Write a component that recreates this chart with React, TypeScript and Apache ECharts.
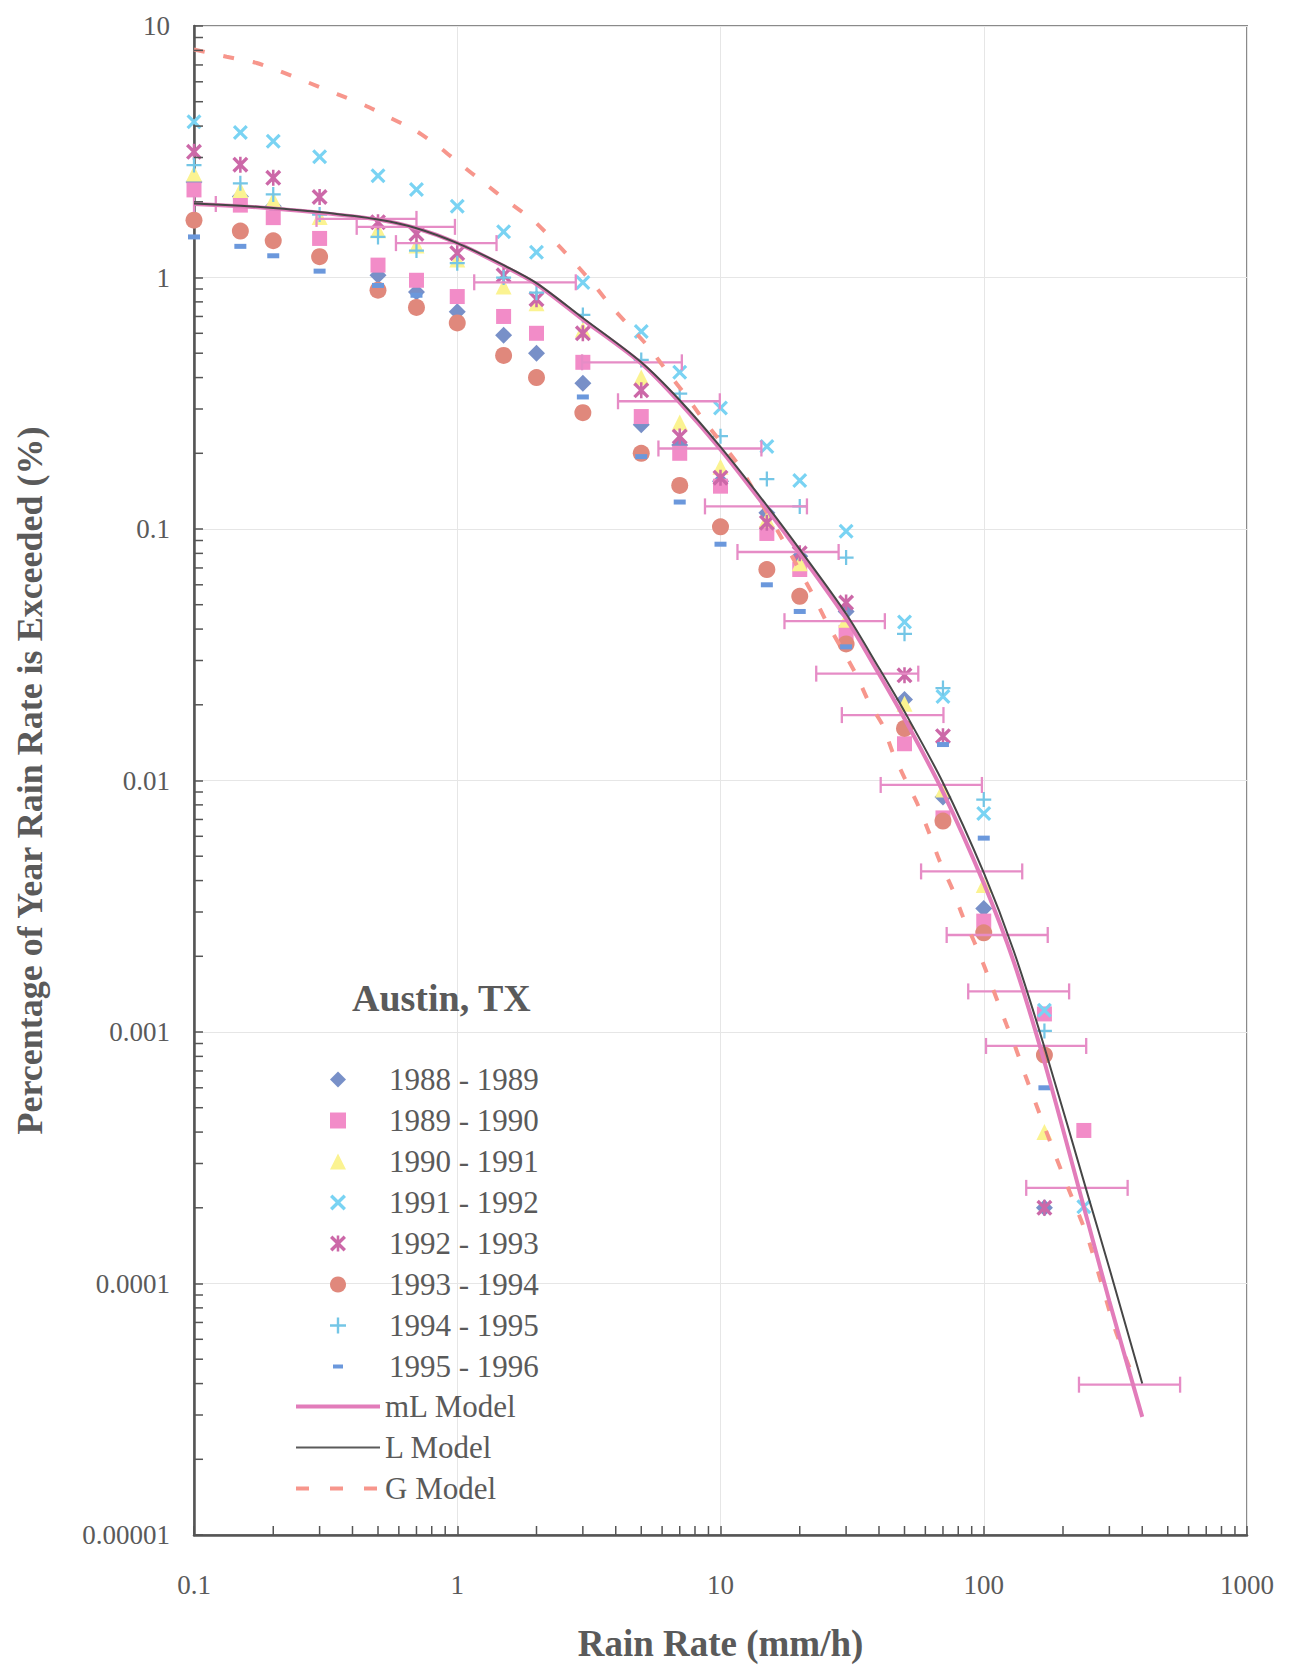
import React, { useEffect, useRef } from "react";
import * as echarts from "echarts";

const FONT = "'Liberation Serif', 'Times New Roman', Times, serif";
const TEXT_COLOR = "#5a5a5a";

// Rain-rate thresholds (mm/h) at which the yearly exceedance was measured
const rainRates = [0.1, 0.15, 0.2, 0.3, 0.5, 0.7, 1, 1.5, 2, 3, 5, 7, 10, 15, 20, 30, 50, 70, 100, 170, 240];

// Percentage of year exceeded, per measurement year (null = not plotted / hidden)
const y1988 = [2.4, 2.1, 1.92, null, 1.02, 0.875, 0.73, 0.59, 0.5, 0.38, 0.26, 0.216, 0.155, 0.116, 0.078, 0.047, 0.021, 0.0086, 0.0031, 0.0002, null];
const y1989 = [2.23, 1.94, 1.73, 1.43, 1.12, 0.975, 0.84, 0.7, 0.6, 0.46, 0.28, 0.2, 0.148, 0.096, 0.069, 0.0388, 0.014, 0.0071, 0.00276, 0.00118, 0.000406];
const y1990 = [2.59, 2.23, 2.04, 1.74, 1.54, 1.34, 1.18, 0.92, 0.79, 0.62, 0.4, 0.265, 0.177, 0.109, 0.073, 0.0436, 0.0202, 0.0092, 0.00384, 0.0004, null];
const y1991 = [4.16, 3.77, 3.48, 3.02, 2.54, 2.24, 1.92, 1.52, 1.26, 0.955, 0.61, 0.42, 0.303, 0.213, 0.156, 0.098, 0.0427, 0.0216, 0.0074, 0.00122, 0.000202];
const y1992 = [3.16, 2.81, 2.49, 2.09, 1.66, 1.49, 1.25, 1.02, 0.82, 0.6, 0.356, 0.233, 0.16, 0.106, 0.08, 0.051, 0.0262, 0.015, null, 0.0002, null];
const y1993 = [1.69, 1.53, 1.4, 1.21, 0.89, 0.76, 0.66, 0.49, 0.4, 0.29, 0.2, 0.149, 0.102, 0.069, 0.054, 0.0349, 0.0161, 0.0069, 0.00248, 0.00081, null];
const y1994 = [2.8, 2.37, 2.14, 1.78, 1.45, 1.28, 1.14, 1.0, 0.87, 0.71, 0.47, 0.345, 0.234, 0.158, 0.123, 0.077, 0.0383, 0.0233, 0.0084, 0.00101, null];
const y1995 = [1.45, 1.33, 1.22, 1.06, 0.93, 0.85, null, null, null, 0.335, 0.194, 0.128, 0.087, 0.06, 0.047, 0.034, null, 0.0139, 0.0059, 0.0006, null];

const seriesNames = ["1988 - 1989", "1989 - 1990", "1990 - 1991", "1991 - 1992", "1992 - 1993", "1993 - 1994", "1994 - 1995", "1995 - 1996"];
const modelNames = ["mL Model", "L Model", "G Model"];

// Model curves
const modelX = [0.1, 0.15, 0.2, 0.3, 0.5, 0.7, 1, 1.5, 2, 3, 5, 7, 10, 15, 20, 30, 40, 50, 70, 100, 130, 170, 250, 300, 400];
const modelL = [1.97, 1.93, 1.89, 1.82, 1.7, 1.57, 1.37, 1.12, 0.95, 0.69, 0.46, 0.325, 0.212, 0.124, 0.083, 0.046, 0.028, 0.0188, 0.0098, 0.0043, 0.0021, 0.00087, 0.00022, 0.000115, 0.00004];
const modelML = [1.96, 1.92, 1.88, 1.81, 1.7, 1.57, 1.37, 1.11, 0.94, 0.68, 0.455, 0.318, 0.207, 0.12, 0.08, 0.044, 0.0265, 0.0176, 0.009, 0.0039, 0.0019, 0.00076, 0.000172, 0.000085, 0.0000295];
const gModelX = [0.1, 0.133, 0.173, 0.213, 0.273, 0.35, 0.449, 0.55, 0.7, 0.855, 1.02, 1.25, 1.56, 1.93, 2.27, 2.76, 3.33, 3.92, 4.74, 5.41, 6.35, 7.38, 8.53, 11.7, 13.2, 17.2, 22.6, 25.5, 32.7, 36.6, 41.3, 45, 49.9, 55.9, 62, 67.7, 76.2, 83.2, 92.4, 101, 122, 132, 144, 157, 185, 205, 249, 315, 378];
const gModelY = [8.06, 7.55, 7.13, 6.6, 5.95, 5.36, 4.82, 4.34, 3.82, 3.3, 2.84, 2.4, 2.0, 1.7, 1.44, 1.16, 0.926, 0.75, 0.606, 0.52, 0.415, 0.34, 0.275, 0.18, 0.146, 0.091, 0.054, 0.042, 0.0265, 0.0205, 0.0166, 0.013, 0.0103, 0.0081, 0.0062, 0.00484, 0.00368, 0.00289, 0.00226, 0.0018, 0.00107, 0.000868, 0.00067, 0.000525, 0.000333, 0.000253, 0.000151, 0.000066, 0.00004];

// Horizontal error bars on the mL model
const errLow = [0.1, 0.292, 0.415, 0.585, 1.16, 2.98, 4.08, 5.81, 8.73, 11.6, 17.5, 23.1, 28.9, 40.6, 57.8, 72.3, 87.3, 102, 145, 230];
const errHigh = [0.121, 0.7, 0.98, 1.41, 2.82, 7.13, 9.94, 14.3, 21.3, 28.1, 42.1, 56.4, 70.3, 98.4, 140, 175, 211, 245, 352, 557];
const errY = [1.96, 1.71, 1.59, 1.37, 0.957, 0.46, 0.322, 0.209, 0.123, 0.081, 0.043, 0.0266, 0.0182, 0.0096, 0.00435, 0.00243, 0.00145, 0.00088, 0.00024, 0.0000396];

// Axis ticks
const xTickLabels = ["0.1", "1", "10", "100", "1000"];
const yTickLabels = ["0.00001", "0.0001", "0.001", "0.01", "0.1", "1", "10"];
const minorMultipliers = [2, 3, 4, 5, 6, 7, 8, 9];
const xDecades = [0.1, 1, 10, 100];
const yDecades = [0.00001, 0.0001, 0.001, 0.01, 0.1, 1];

const X_MIN = 0.1, X_MAX = 1000, Y_MIN = 0.00001, Y_MAX = 10;

const X_PATH = "path://M0,1.5L1.5,0L5,3.5L8.5,0L10,1.5L6.5,5L10,8.5L8.5,10L5,6.5L1.5,10L0,8.5L3.5,5Z";
const STAR_PATH = "path://M0,1.5L1.5,0L5,3.5L8.5,0L10,1.5L6.5,5L10,8.5L8.5,10L5,6.5L1.5,10L0,8.5L3.5,5Z M4.2,0L5.8,0L5.8,10L4.2,10Z";
const PLUS_PATH = "path://M4.25,0L5.75,0L5.75,4.25L10,4.25L10,5.75L5.75,5.75L5.75,10L4.25,10L4.25,5.75L0,5.75L0,4.25L4.25,4.25Z";
const DASH_PATH = "path://M0,0L10,0L10,4L0,4Z";
const DASH_LEGEND_ICON = "path://M0,0L0,0M3,6L13,6L13,10L3,10ZM16,16L16,16";

// Legend icons for the model curves
const ML_ICON = "path://M0,0L84,0L84,4L0,4Z";
const L_ICON = "path://M0,0L84,0L84,2L0,2Z";
const G_ICON = "path://M0,0L13,0L13,4L0,4Z M34,0L47,0L47,4L34,4Z M68,0L81,0L81,4L68,4Z M84,0L84,0";
const modelIcons = [ML_ICON, L_ICON, G_ICON];

const seriesValues = [y1988, y1989, y1990, y1991, y1992, y1993, y1994, y1995];
const seriesSymbols: any[] = ["diamond", "rect", "triangle", X_PATH, STAR_PATH, "circle", PLUS_PATH, DASH_PATH];
const legendSymbols: any[] = ["diamond", "rect", "triangle", X_PATH, STAR_PATH, "circle", PLUS_PATH, DASH_LEGEND_ICON];
const seriesSizes: any[] = [17, 15, 16, 15, 16, 17, 15, [12, 5]];
const seriesColors = ["#7890c8", "#f28cc8", "#fbf391", "#79d3f3", "#cc68a8", "#e0887c", "#74c6e6", "#6b98dc"];

function buildOption(): any {
  const decadeIndex = (v: number, base: number) => Math.round(Math.log10(v)) - base;

  const scatterSeries = seriesNames.map((name, i) => ({
    type: "scatter",
    name,
    symbol: seriesSymbols[i],
    symbolSize: seriesSizes[i],
    itemStyle: { color: seriesColors[i], opacity: 1 },
    clip: false,
    z: 2,
    data: rainRates
      .map((x, k) => [x, seriesValues[i][k]])
      .filter((p) => p[1] !== null && p[1] !== undefined),
  }));

  const errorSeries = {
    type: "custom",
    name: "errorbars",
    silent: true,
    z: 3,
    clip: false,
    encode: { x: [0, 1], y: 2 },
    data: errY.map((y, i) => [errLow[i], errHigh[i], y]),
    renderItem: (params: any, api: any) => {
      const lo = api.coord([api.value(0), api.value(2)]);
      const hi = api.coord([api.value(1), api.value(2)]);
      const h = 8;
      const style = { stroke: "#e68cc6", lineWidth: 2.3, fill: null };
      return {
        type: "group",
        children: [
          { type: "line", shape: { x1: lo[0], y1: lo[1], x2: hi[0], y2: hi[1] }, style },
          { type: "line", shape: { x1: lo[0], y1: lo[1] - h, x2: lo[0], y2: lo[1] + h }, style },
          { type: "line", shape: { x1: hi[0], y1: hi[1] - h, x2: hi[0], y2: hi[1] + h }, style },
        ],
      };
    },
  };

  const xMinor = xDecades.flatMap((d) => minorMultipliers.map((m) => [m * d, Y_MIN]));
  const yMinor = yDecades.flatMap((d) => minorMultipliers.map((m) => [X_MIN, m * d]));

  const tickStyle = { stroke: "#555", lineWidth: 1.5 };
  const xMinorSeries = {
    type: "custom",
    silent: true,
    z: 6,
    clip: false,
    data: xMinor,
    renderItem: (params: any, api: any) => {
      const p = api.coord([api.value(0), api.value(1)]);
      return { type: "line", shape: { x1: p[0], y1: p[1], x2: p[0], y2: p[1] - 9 }, style: tickStyle };
    },
  };
  const yMinorSeries = {
    type: "custom",
    silent: true,
    z: 6,
    clip: false,
    data: yMinor,
    renderItem: (params: any, api: any) => {
      const p = api.coord([api.value(0), api.value(1)]);
      return { type: "line", shape: { x1: p[0], y1: p[1], x2: p[0] + 9, y2: p[1] }, style: tickStyle };
    },
  };

  const lineSeries = [
    {
      type: "line",
      name: "mL Model",
      symbol: "none",
      smooth: 0.3,
      clip: false,
      z: 4,
      lineStyle: { color: "#e27cba", width: 4 },
      itemStyle: { color: "#e27cba" },
      data: modelX.map((x, i) => [x, modelML[i]]),
    },
    {
      type: "line",
      name: "L Model",
      symbol: "none",
      smooth: 0.3,
      clip: false,
      z: 5,
      lineStyle: { color: "#464646", width: 2 },
      itemStyle: { color: "#5a5a5a" },
      data: modelX.map((x, i) => [x, modelL[i]]),
    },
    {
      type: "line",
      name: "G Model",
      symbol: "none",
      smooth: 0.2,
      clip: false,
      z: 3,
      lineStyle: { color: "#f7968c", width: 4, type: [11, 19] },
      itemStyle: { color: "#f7968c" },
      data: gModelX.map((x, i) => [x, gModelY[i]]),
    },
  ];

  return {
    animation: false,
    backgroundColor: "#ffffff",
    textStyle: { fontFamily: FONT },
    title: {
      text: "Austin, TX",
      left: 352,
      top: 979,
      padding: 0,
      textStyle: { fontFamily: FONT, fontSize: 38, fontWeight: "bold", color: TEXT_COLOR },
    },
    legend: [
      {
        data: seriesNames.map((name, i) => ({ name, icon: legendSymbols[i] })),
        orient: "vertical",
        left: 330,
        top: 1064,
        padding: 0,
        itemWidth: 16,
        itemHeight: 16,
        itemGap: 10,
        selectedMode: false,
        textStyle: { fontFamily: FONT, fontSize: 31, lineHeight: 31, color: TEXT_COLOR, padding: [0, 0, 0, 38] },
      },
      {
        data: modelNames.map((name, i) => ({ name, icon: modelIcons[i] })),
        orient: "vertical",
        left: 296,
        top: 1391,
        padding: 0,
        itemWidth: 84,
        itemHeight: 16,
        itemGap: 10,
        selectedMode: false,
        textStyle: { fontFamily: FONT, fontSize: 31, lineHeight: 31, color: TEXT_COLOR },
      },
    ],
    grid: {
      left: 194,
      right: 42,
      top: 26,
      bottom: 129,
      show: true,
      borderColor: "#8a8a8a",
      borderWidth: 2,
    },
    xAxis: {
      type: "log",
      logBase: 10,
      min: X_MIN,
      max: X_MAX,
      axisLine: { show: true, onZero: false, lineStyle: { color: "#555", width: 2.5 } },
      axisTick: { show: true, inside: true, length: 9, lineStyle: { color: "#555", width: 1.5 } },
      splitLine: { show: true, lineStyle: { color: "#e6e6e6", width: 1 } },
      axisLabel: {
        fontFamily: FONT,
        fontSize: 27,
        color: TEXT_COLOR,
        margin: 36,
        formatter: (v: number) => xTickLabels[decadeIndex(v, -1)] ?? "",
      },
      name: "Rain Rate (mm/h)",
      nameLocation: "middle",
      nameGap: 90,
      nameTextStyle: { fontFamily: FONT, fontSize: 37, fontWeight: "bold", color: TEXT_COLOR },
    },
    yAxis: {
      type: "log",
      logBase: 10,
      min: Y_MIN,
      max: Y_MAX,
      axisLine: { show: true, onZero: false, lineStyle: { color: "#555", width: 2.5 } },
      axisTick: { show: true, inside: true, length: 9, lineStyle: { color: "#555", width: 1.5 } },
      splitLine: { show: true, lineStyle: { color: "#e6e6e6", width: 1 } },
      axisLabel: {
        fontFamily: FONT,
        fontSize: 27,
        color: TEXT_COLOR,
        margin: 24,
        formatter: (v: number) => yTickLabels[decadeIndex(v, -5)] ?? "",
      },
      name: "Percentage of Year Rain Rate is Exceeded (%)",
      nameLocation: "middle",
      nameGap: 146,
      nameTextStyle: { fontFamily: FONT, fontSize: 36, fontWeight: "bold", color: TEXT_COLOR },
    },
    series: [errorSeries, ...scatterSeries, ...lineSeries, xMinorSeries, yMinorSeries],
  };
}

export default function App() {
  const ref = useRef<HTMLDivElement>(null);
  useEffect(() => {
    document.body.style.margin = "0";
    const chart = echarts.init(ref.current!, null, { renderer: "svg" });
    chart.setOption(buildOption());
    return () => chart.dispose();
  }, []);
  return (
    <div
      ref={ref}
      style={{ position: "absolute", left: 0, top: 0, width: 1289, height: 1667, background: "#fff" }}
    />
  );
}
